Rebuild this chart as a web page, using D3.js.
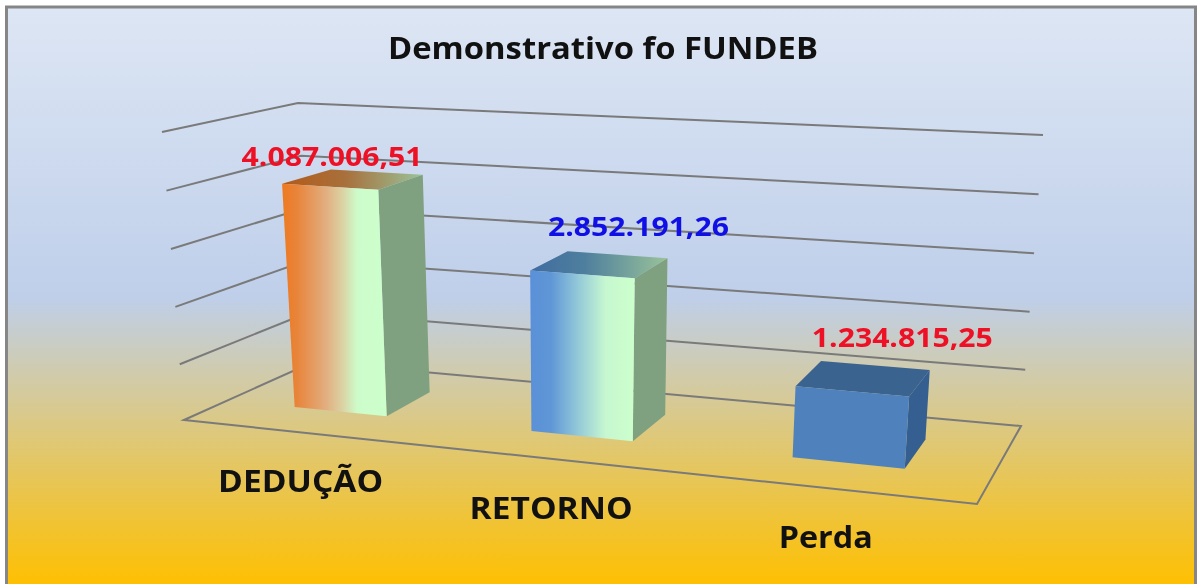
<!DOCTYPE html>
<html>
<head>
<meta charset="utf-8">
<script src="https://cdnjs.cloudflare.com/ajax/libs/d3/7.8.5/d3.min.js"></script>
<style>
html,body{margin:0;padding:0;background:#fff;overflow:hidden}
text{font-family:"Open Sans","Noto Sans",sans-serif;font-weight:700}
</style>
</head>
<body>
<div id="chart"></div>
<script>
const categories = ['DEDUÇÃO', 'RETORNO', 'Perda']
const values = [4087006.51, 2852191.26, 1234815.25]
const valueLabels = ['4.087.006,51', '2.852.191,26', '1.234.815,25']
const labelColors = ['#ee1126', '#1010e6', '#ee1126']
const gridLevels = [0, 1024000, 2048000, 3072000, 4096000, 5120000]

const width = 1198
const height = 584

// corners of the 3d plot box as they land on the page
const box = {
    floor: {fl: [184, 420], fr: [977, 504], bl: [313, 362], br: [1021, 426]},
    top: {fl: [162, 132], fr: [1002, 181], bl: [298, 103], br: [1043, 135]}
}
const perspective = 1.16

const xBand = d3.scaleBand().domain(categories).range([0, 1]).paddingInner(0.6).paddingOuter(0.3)
const depth = d3.scaleLinear().domain([0, 1]).range([0.34, 0.726])
// small exponent stands in for the foreshortening of the value axis
const yValue = d3.scalePow().exponent(1.02).domain([0, 5120000]).range([0, 1])

const warp = s => s / (s + perspective * (1 - s))

// s = across, d = front to back, v = height, all 0..1
function project(s, d, v) {
    const u = warp(s)
    const plane = c => {
        const front = d3.interpolate(c.fl, c.fr)(u)
        const back = d3.interpolate(c.bl, c.br)(u)
        return d3.interpolate(front, back)(d)
    }
    return d3.interpolate(plane(box.floor), plane(box.top))(v)
}

const svg = d3.select('#chart').append('svg')
    .attr('width', width)
    .attr('height', height)
    .style('display', 'block')
    .style('filter', 'blur(0.5px)')

const defs = svg.append('defs')

function addGradient(id, stops, vertical) {
    const g = defs.append('linearGradient').attr('id', id)
        .attr('x1', 0).attr('y1', 0)
        .attr('x2', vertical ? 0 : 1).attr('y2', vertical ? 1 : 0)
    g.selectAll('stop').data(stops).enter().append('stop')
        .attr('offset', d => d[0])
        .attr('stop-color', d => d[1])
}

addGradient('bg', [[0, '#dde6f4'], [0.5, '#bfcfea'], [1, '#ffc000']], true)
addGradient('frontOrange', [[0, '#ee7a20'], [0.14, '#e8843a'], [0.42, '#e2ae80'], [0.58, '#dbd3a4'], [0.72, '#cdfccb'], [1, '#ccffcc']])
addGradient('topOrange', [[0, '#b35a18'], [0.45, '#a8703c'], [1, '#99c399']])
addGradient('frontBlue', [[0, '#5a90d8'], [0.2, '#5f97d6'], [0.47, '#96cbd8'], [0.72, '#c6f7d0'], [1, '#ccffcc']])
addGradient('topBlue', [[0, '#3f6c9f'], [0.4, '#4f7f9e'], [1, '#99c399']])

const frontFills = ['url(#frontOrange)', 'url(#frontBlue)', '#4f81bd']
const topFills = ['url(#topOrange)', 'url(#topBlue)', '#3b638f']
const sideFills = ['#7fa17f', '#7fa17f', '#345f90']

// background and frame
svg.append('rect').attr('x', 6.5).attr('y', 7).attr('width', 1189).attr('height', 580)
    .attr('fill', 'url(#bg)')
    .attr('stroke', '#868686').attr('stroke-width', 3)

const line = d3.line()
const grid = svg.append('g').attr('fill', 'none').attr('stroke', '#7a7a7a').attr('stroke-width', 2)

// left wall + back wall lines
grid.selectAll('.gridline')
    .data(gridLevels.slice(1))
    .enter().append('path')
    .attr('class', 'gridline')
    .attr('d', d => line([project(0, 0, yValue(d)), project(0, 1, yValue(d)), project(1, 1, yValue(d))]))

grid.append('path')
    .attr('d', line([project(0, 0, 0), project(1, 0, 0), project(1, 1, 0), project(0, 1, 0)]) + 'Z')

// bars, back faces are never seen so only top, front and side
const bars = svg.selectAll('.bar')
    .data(categories)
    .enter().append('g')
    .attr('class', 'bar')

const corners = (c, i) => {
    const s0 = xBand(c)
    const s1 = s0 + xBand.bandwidth()
    const v = yValue(values[i])
    return {s0, s1, v, d0: depth(0), d1: depth(1)}
}

bars.append('path')
    .attr('d', (c, i) => {
        const b = corners(c, i)
        return line([project(b.s0, b.d0, b.v), project(b.s1, b.d0, b.v), project(b.s1, b.d1, b.v), project(b.s0, b.d1, b.v)]) + 'Z'
    })
    .attr('fill', (c, i) => topFills[i])

bars.append('path')
    .attr('d', (c, i) => {
        const b = corners(c, i)
        return line([project(b.s1, b.d0, 0), project(b.s1, b.d1, 0), project(b.s1, b.d1, b.v), project(b.s1, b.d0, b.v)]) + 'Z'
    })
    .attr('fill', (c, i) => sideFills[i])

bars.append('path')
    .attr('d', (c, i) => {
        const b = corners(c, i)
        return line([project(b.s0, b.d0, 0), project(b.s1, b.d0, 0), project(b.s1, b.d0, b.v), project(b.s0, b.d0, b.v)]) + 'Z'
    })
    .attr('fill', (c, i) => frontFills[i])

// data labels were dragged by hand in the original, hence the offsets
const labelDx = [-21, 39, 39]
const labelDy = [-13, -28, -31]

svg.selectAll('.value-label')
    .data(valueLabels)
    .enter().append('text')
    .attr('class', 'value-label')
    .attr('x', (d, i) => project(xBand(categories[i]) + xBand.bandwidth() / 2, depth(0.5), yValue(values[i]))[0] + labelDx[i])
    .attr('y', (d, i) => project(xBand(categories[i]) + xBand.bandwidth() / 2, depth(0.5), yValue(values[i]))[1] + labelDy[i])
    .attr('text-anchor', 'middle')
    .attr('font-size', 26)
    .attr('textLength', 181)
    .attr('lengthAdjust', 'spacingAndGlyphs')
    .attr('fill', (d, i) => labelColors[i])
    .text(d => d)

const catWidths = [165, 163, 94]
const catDx = [0, 0, -2]
svg.selectAll('.cat-label')
    .data(categories)
    .enter().append('text')
    .attr('class', 'cat-label')
    .attr('x', (c, i) => project(xBand(c) + xBand.bandwidth() / 2, 0, 0)[0] + catDx[i])
    .attr('y', c => project(xBand(c) + xBand.bandwidth() / 2, 0, 0)[1] + 60)
    .attr('text-anchor', 'middle')
    .attr('font-size', 30)
    .attr('textLength', (c, i) => catWidths[i])
    .attr('lengthAdjust', 'spacingAndGlyphs')
    .attr('fill', '#111')
    .text(c => c)

svg.append('text')
    .attr('x', 603)
    .attr('y', 59)
    .attr('text-anchor', 'middle')
    .attr('font-size', 30)
    .attr('textLength', 430)
    .attr('lengthAdjust', 'spacingAndGlyphs')
    .attr('fill', '#111')
    .text('Demonstrativo fo FUNDEB')
</script>
</body>
</html>
